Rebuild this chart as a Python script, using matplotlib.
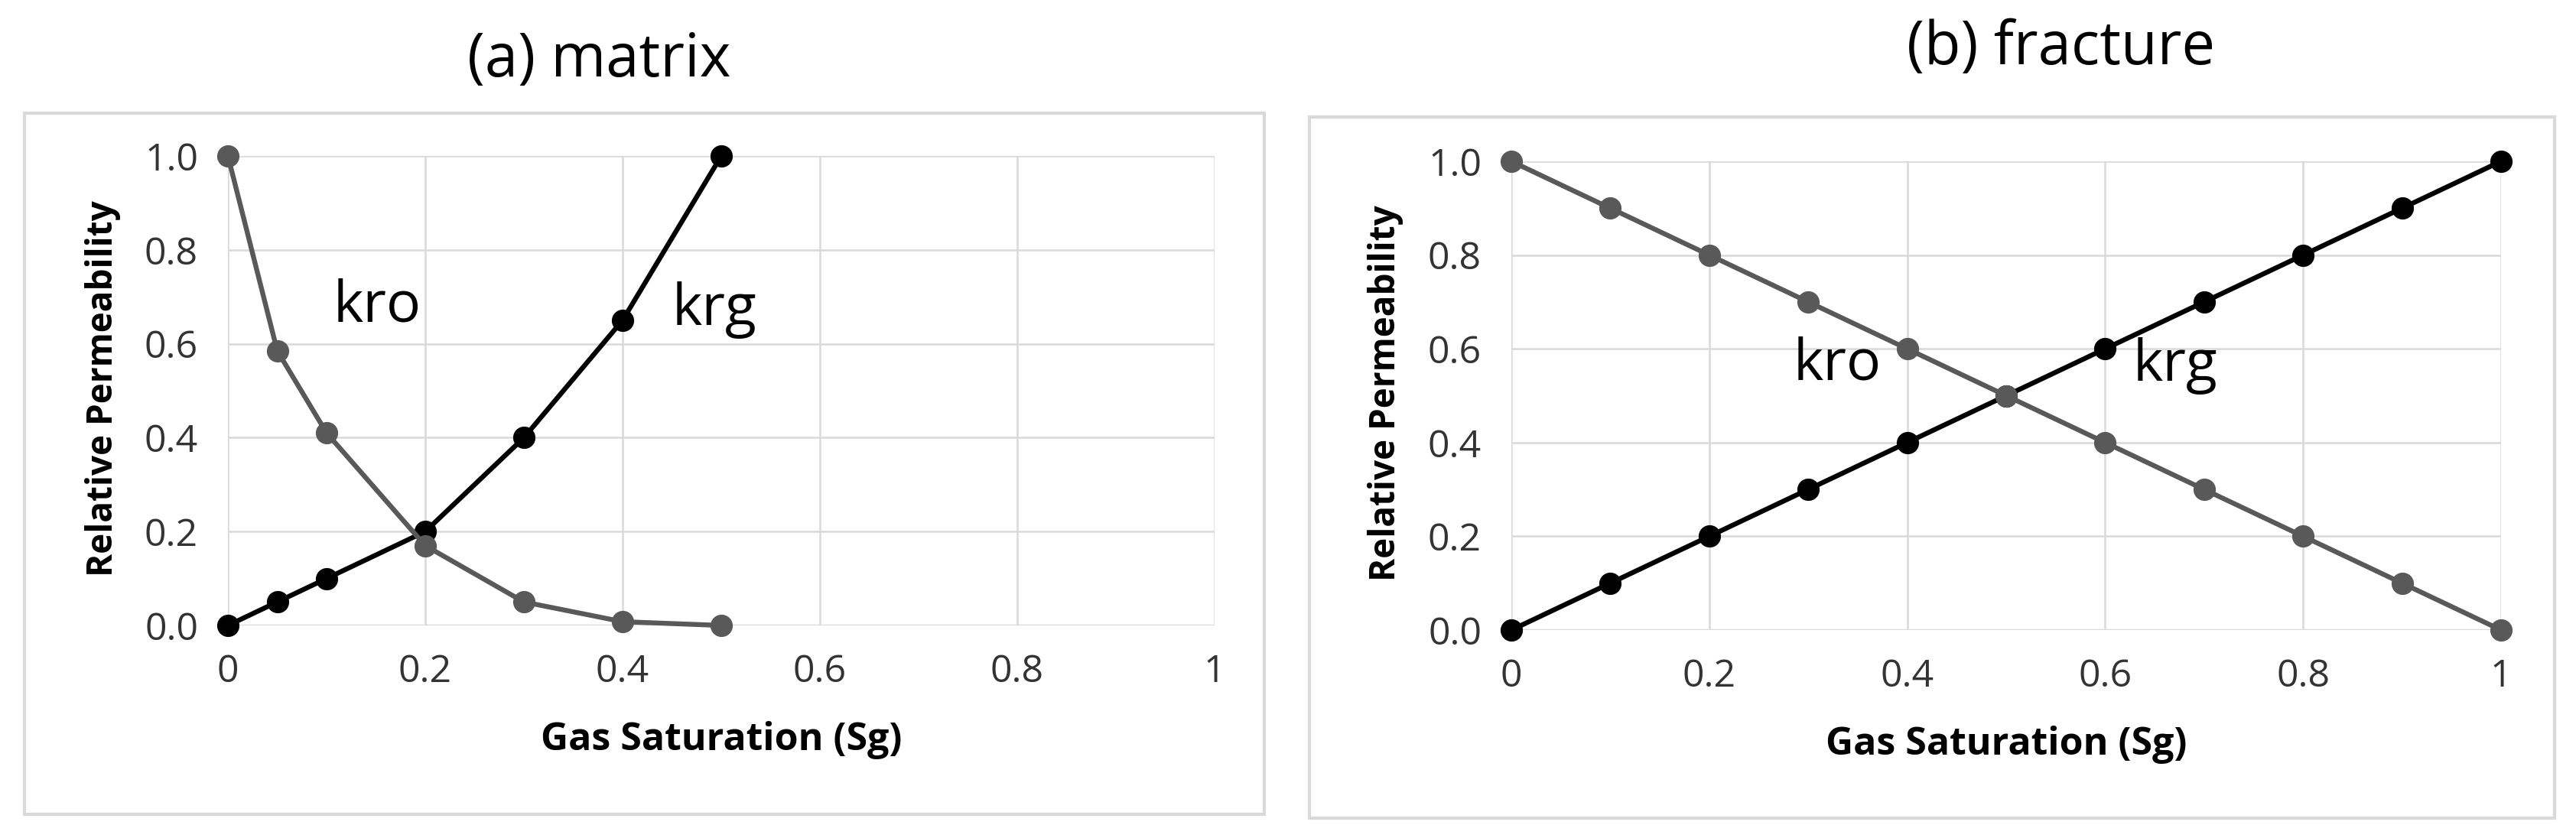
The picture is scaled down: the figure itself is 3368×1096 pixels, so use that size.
import matplotlib
matplotlib.use("Agg")
import matplotlib.pyplot as plt
from matplotlib.patches import Rectangle

# matrix curves
sg_matrix = [0.0, 0.05, 0.1, 0.2, 0.3, 0.4, 0.5]
krg_matrix = [0.0, 0.05, 0.1, 0.2, 0.4, 0.65, 1.0]
kro_matrix = [1.0, 0.585, 0.41, 0.17, 0.05, 0.008, 0.0]

# fracture curves
sg_fracture = [0.0, 0.1, 0.2, 0.3, 0.4, 0.5, 0.6, 0.7, 0.8, 0.9, 1.0]
krg_fracture = [0.0, 0.1, 0.2, 0.3, 0.4, 0.5, 0.6, 0.7, 0.8, 0.9, 1.0]
kro_fracture = [1.0, 0.9, 0.8, 0.7, 0.6, 0.5, 0.4, 0.3, 0.2, 0.1, 0.0]

x_ticks = [0, 0.2, 0.4, 0.6, 0.8, 1.0]
x_tick_labels = ["0", "0.2", "0.4", "0.6", "0.8", "1"]
y_ticks = [0.0, 0.2, 0.4, 0.6, 0.8, 1.0]
y_tick_labels = ["0.0", "0.2", "0.4", "0.6", "0.8", "1.0"]

W, H = 3368, 1096
plt.rcParams['font.family'] = ['Open Sans', 'DejaVu Sans']

fig = plt.figure(figsize=(W / 100, H / 100), dpi=100)
fig.patch.set_facecolor('white')


def px_box(x0, y0, x1, y1):
    # pixel box (top-left origin) -> figure fraction
    return [x0 / W, 1 - y1 / H, (x1 - x0) / W, (y1 - y0) / H]


def panel(box, ax_box, title, title_xy, sg, krg, kro, kro_pos, krg_pos):
    b = px_box(*box)
    fig.patches.append(Rectangle((b[0], b[1]), b[2], b[3], transform=fig.transFigure,
                                 fill=False, edgecolor='#d9d9d9', linewidth=3))
    fig.text(title_xy[0] / W, 1 - title_xy[1] / H, title, ha='center', va='center',
             fontsize=56, color='black')

    ax = fig.add_axes(px_box(*ax_box))
    ax.set_xlim(0, 1)
    ax.set_ylim(0, 1)
    for s in ax.spines.values():
        s.set_visible(False)
    ax.grid(True, color='#d9d9d9', linewidth=1.8)
    ax.set_axisbelow(True)
    ax.axhline(0, color='#d9d9d9', linewidth=2.4, zorder=0.5)

    ax.plot(sg, krg, color='black', lw=4.6, marker='o', ms=20, clip_on=False, zorder=3)
    ax.plot(sg, kro, color='#595959', lw=4.6, marker='o', ms=20, clip_on=False, zorder=4)

    ax.set_xticks(x_ticks)
    ax.set_xticklabels(x_tick_labels)
    ax.set_yticks(y_ticks)
    ax.set_yticklabels(y_tick_labels)
    ax.tick_params(length=0, labelsize=36, labelcolor='#333333')
    ax.tick_params(axis='x', pad=26)
    ax.tick_params(axis='y', pad=28)

    ax.set_xlabel('Gas Saturation (Sg)', fontsize=36, fontweight='bold', color='black')
    ax.set_ylabel('Relative Permeability', fontsize=33, fontweight='bold', color='black')
    ax.xaxis.set_label_coords(0.5, -0.245)
    ax.xaxis.label.set_va('center')
    ax.yaxis.set_label_coords(-0.127, 0.505)
    ax.yaxis.label.set_va('center')

    ax.text(kro_pos[0], kro_pos[1], 'kro', fontsize=54, ha='left', va='baseline', color='black')
    ax.text(krg_pos[0], krg_pos[1], 'krg', fontsize=54, ha='left', va='baseline', color='black')
    return ax


panel((32, 148, 1653, 1065), (298, 204, 1588, 818), '(a) matrix', (783, 80),
      sg_matrix, krg_matrix, kro_matrix, (0.107, 0.648), (0.450, 0.640))
panel((1712, 153, 3340, 1070), (1976, 211, 3270, 824), '(b) fracture', (2695, 63),
      sg_fracture, krg_fracture, kro_fracture, (0.285, 0.535), (0.628, 0.532))

fig.savefig('out.png', dpi=100, facecolor='white')
